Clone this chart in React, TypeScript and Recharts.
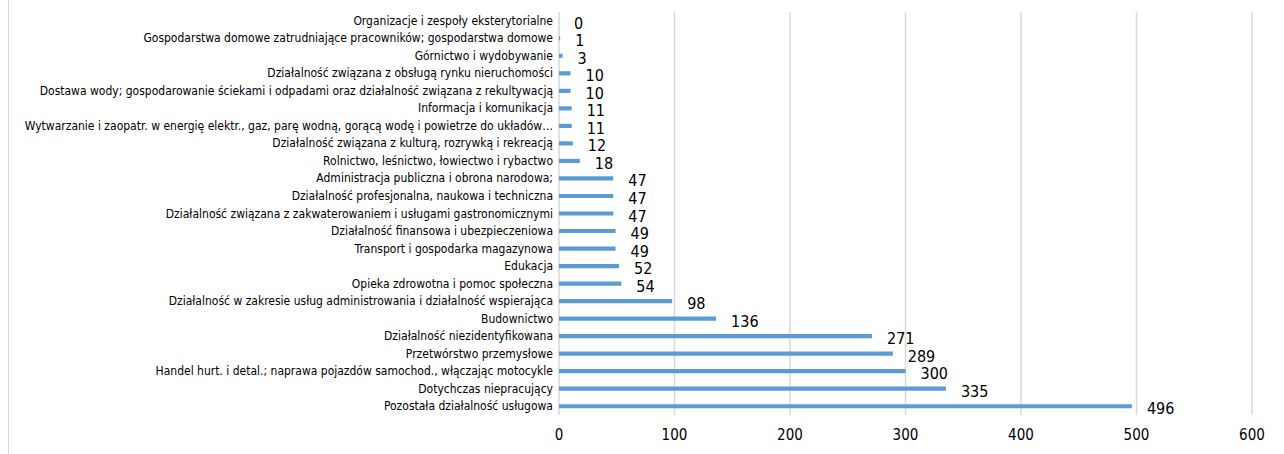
import { BarChart, Bar, XAxis, YAxis, CartesianGrid, LabelList } from 'recharts';

const categories = [
  'Organizacje i zespoły eksterytorialne',
  'Gospodarstwa domowe zatrudniające pracowników; gospodarstwa domowe',
  'Górnictwo i wydobywanie',
  'Działalność związana z obsługą rynku nieruchomości',
  'Dostawa wody; gospodarowanie ściekami i odpadami oraz działalność związana z rekultywacją',
  'Informacja i komunikacja',
  'Wytwarzanie i zaopatr. w energię elektr., gaz, parę wodną, gorącą wodę i powietrze do układów…',
  'Działalność związana z kulturą, rozrywką i rekreacją',
  'Rolnictwo, leśnictwo, łowiectwo i rybactwo',
  'Administracja publiczna i obrona narodowa;',
  'Działalność profesjonalna, naukowa i techniczna',
  'Działalność związana z zakwaterowaniem i usługami gastronomicznymi',
  'Działalność finansowa i ubezpieczeniowa',
  'Transport i gospodarka magazynowa',
  'Edukacja',
  'Opieka zdrowotna i pomoc społeczna',
  'Działalność w zakresie usług administrowania i działalność wspierająca',
  'Budownictwo',
  'Działalność niezidentyfikowana',
  'Przetwórstwo przemysłowe',
  'Handel hurt. i detal.; naprawa pojazdów samochod., włączając motocykle',
  'Dotychczas niepracujący',
  'Pozostała działalność usługowa',
];

const values = [0, 1, 3, 10, 10, 11, 11, 12, 18, 47, 47, 47, 49, 49, 52, 54, 98, 136, 271, 289, 300, 335, 496];

const xTicks = [0, 100, 200, 300, 400, 500, 600];

const data = categories.map((name, i) => ({ name, value: values[i] }));

const FONT = "'Liberation Sans Narrow', 'DejaVu Sans Condensed', 'Open Sans', sans-serif";

// single-line category labels (recharts would wrap them otherwise)
function CategoryTick({ x, y, payload }: any) {
  return (
    <text x={x} y={y} dy={4} textAnchor="end" fontSize={12} fill="#000" fontFamily={FONT}>
      {payload.value}
    </text>
  );
}

function ValueLabel({ x, y, width, height, value }: any) {
  return (
    <text
      x={Number(x) + Number(width) + 15}
      y={Number(y) + Number(height) / 2 + 3}
      dy={5}
      fontSize={16}
      fill="#000"
      fontFamily={FONT}
    >
      {value}
    </text>
  );
}

export default function App() {
  return (
    <div style={{ position: 'absolute', left: 0, top: 0, width: 1284, height: 454, background: '#fff' }}>
      <div style={{ position: 'absolute', left: 8, top: 0, width: 1, height: 454, background: '#d9d9d9' }} />
      <BarChart
        width={1284}
        height={454}
        data={data}
        layout="vertical"
        margin={{ top: 12, right: 32, bottom: 9, left: 0 }}
        barCategoryGap="62%"
        style={{ fontFamily: FONT }}
      >
        <CartesianGrid horizontal={false} stroke="#d9d9d9" strokeWidth={1.5} />
        <XAxis
          type="number"
          domain={[0, 600]}
          ticks={xTicks}
          axisLine={false}
          tickLine={false}
          height={30}
          tickMargin={8}
          tick={{ fontSize: 15, fill: '#000', fontFamily: FONT }}
        />
        <YAxis
          type="category"
          dataKey="name"
          width={559}
          axisLine={false}
          tickLine={false}
          tickMargin={0}
          interval={0}
          tick={<CategoryTick />}
        />
        <Bar dataKey="value" fill="#5b9bd5" minPointSize={0.01} isAnimationActive={false}>
          <LabelList dataKey="value" content={<ValueLabel />} />
        </Bar>
      </BarChart>
    </div>
  );
}
